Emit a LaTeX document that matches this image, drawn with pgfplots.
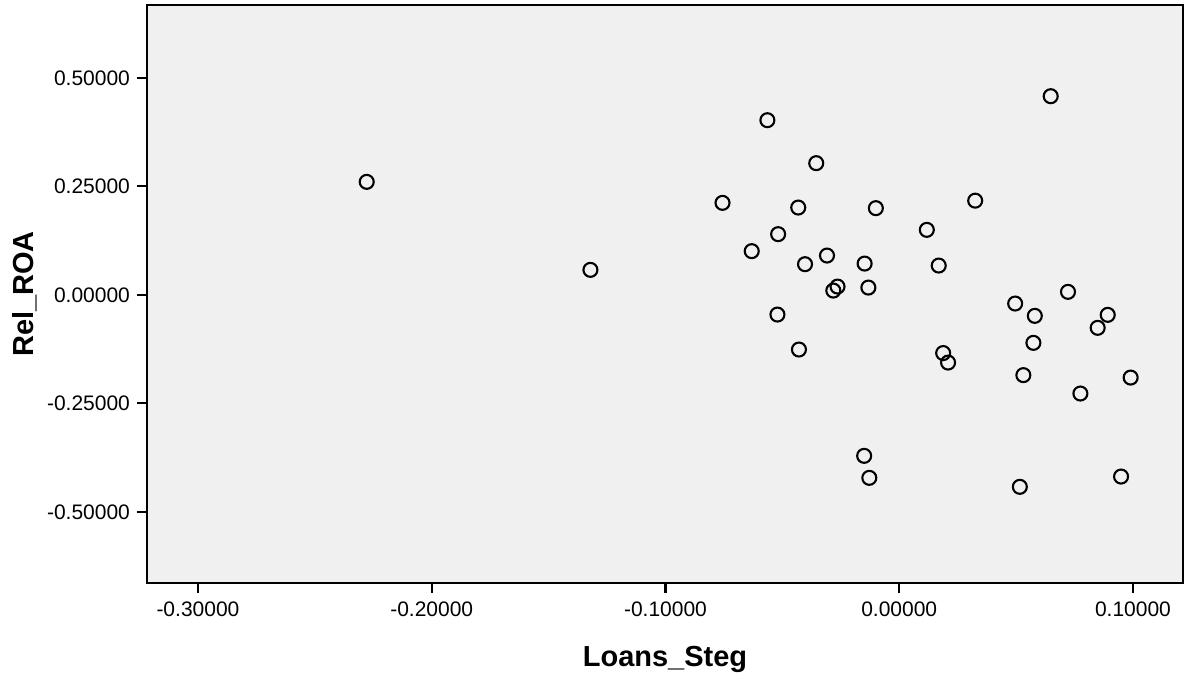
\documentclass[border=0pt]{standalone}
\usepackage{pgfplots}
\pgfplotsset{compat=1.18}
\usepackage{fontspec}
\setmainfont{Liberation Sans}
\definecolor{bgc}{HTML}{F0F0F0}
\begin{document}
\begin{tikzpicture}
\begin{axis}[
  scale only axis,
  width=518pt, height=289pt,
  xmin=-0.3218, xmax=0.1214,
  ymin=-0.664, ymax=0.668,
  axis background/.style={fill=bgc},
  axis line style={line width=1pt},
  tick pos=left,
  tick align=outside,
  major tick length=5pt,
  tick style={black, line width=1.1pt},
  xtick={-0.3,-0.2,-0.1,0,0.1},
  ytick={-0.5,-0.25,0,0.25,0.5},
  /pgf/number format/assume math mode=true,
  /pgf/number format/fixed,
  /pgf/number format/fixed zerofill,
  /pgf/number format/precision=5,
  scaled ticks=false,
  ticklabel style={font=\fontsize{10.5}{12}\selectfont},
  xticklabel style={yshift=-1pt},
  xlabel={Loans\_Steg},
  ylabel={Rel\_ROA},
  label style={font=\fontsize{14.5}{16}\selectfont\bfseries},
  xlabel style={yshift=-8pt},
  ylabel style={yshift=-2pt},
  clip=false,
]
\addplot[only marks, mark=o, mark size=3.5pt, mark options={line width=1.05pt, black}] coordinates {
(-0.2278,0.2604)
(-0.1321,0.0576)
(-0.0756,0.2120)
(-0.0631,0.1007)
(-0.0564,0.4025)
(-0.0518,0.1399)
(-0.0521,-0.0454)
(-0.0432,0.2012)
(-0.0429,-0.1260)
(-0.0403,0.0707)
(-0.0355,0.3035)
(-0.0309,0.0906)
(-0.0282,0.0099)
(-0.0264,0.0191)
(-0.0148,0.0721)
(-0.0132,0.0168)
(-0.0100,0.1998)
(-0.0150,-0.3710)
(-0.0128,-0.4217)
(0.0118,0.1498)
(0.0169,0.0675)
(0.0188,-0.1341)
(0.0209,-0.1560)
(0.0325,0.2171)
(0.0496,-0.0200)
(0.0531,-0.1850)
(0.0516,-0.4424)
(0.0580,-0.0484)
(0.0574,-0.1106)
(0.0648,0.4578)
(0.0722,0.0069)
(0.0775,-0.2274)
(0.0849,-0.0760)
(0.0892,-0.0461)
(0.0990,-0.1906)
(0.0949,-0.4187)
};
\pgfplotsinvokeforeach{-0.3,-0.2,-0.1,0,0.1}{
  \draw[line width=1.1pt, black] (axis cs:#1,-0.664) -- (axis cs:#1,-0.687);
}
\pgfplotsinvokeforeach{-0.5,-0.25,0,0.25,0.5}{
  \draw[line width=1.1pt, black] (axis cs:-0.3218,#1) -- (axis cs:-0.3261,#1);
}
\end{axis}
\pgfresetboundingbox
\path[use as bounding box] ([shift={(-73.5pt,-50pt)}]current axis.south west) rectangle ([shift={(4.5pt,2.5pt)}]current axis.north east);
\end{tikzpicture}
\end{document}
